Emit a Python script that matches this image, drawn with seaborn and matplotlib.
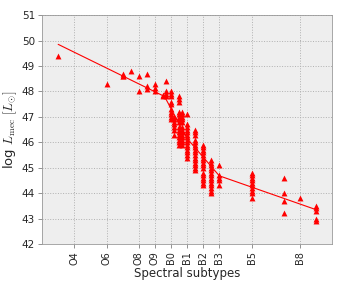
import numpy as np
import pandas as pd
import seaborn as sns
from matplotlib import pyplot as plt

# spectral subtype (numeric: O4=4 ... B0=10 ... B8=18) and log L_mec per star
subtype_cols = [3, 6, 7, 7.5, 8, 8.5, 9, 9.5, 9.7, 10, 10.2, 10.5, 10.7,
                11, 11.5, 12, 12.5, 13, 15, 17, 18, 19]
lmec_cols = [
    [49.4],
    [48.3],
    [48.7, 48.6, 48.6],
    [48.8],
    [48.6, 48.0],
    [48.7, 48.2, 48.1],
    [48.3, 48.15, 48.0],
    [47.8, 47.85],
    [48.4, 48.0, 47.9, 47.8],
    [48.0, 47.9, 47.8, 47.6, 47.5, 47.3, 47.2, 47.1, 47.0, 46.9],
    [47.0, 46.9, 46.8, 46.7, 46.6, 46.5, 46.3],
    [47.8, 47.7, 47.6, 47.2, 47.1, 47.0, 46.9, 46.8, 46.6, 46.5, 46.4,
     46.3, 46.2, 46.1, 46.0, 45.9],
    [47.2, 47.1, 47.0, 46.9, 46.8, 46.6, 46.5, 46.4, 46.3, 46.2, 46.1,
     46.0, 45.9],
    [47.1, 46.7, 46.6, 46.5, 46.4, 46.3, 46.2, 46.1, 46.0, 45.9, 45.8,
     45.7, 45.6, 45.5, 45.4],
    [46.5, 46.4, 46.3, 46.1, 46.0, 45.9, 45.8, 45.7, 45.6, 45.5, 45.4,
     45.3, 45.2, 45.1, 45.0, 44.9],
    [45.9, 45.8, 45.7, 45.6, 45.5, 45.4, 45.3, 45.2, 45.1, 45.0, 44.8,
     44.7, 44.6, 44.5, 44.4, 44.3],
    [45.3, 45.2, 45.1, 45.0, 44.9, 44.8, 44.7, 44.6, 44.5, 44.4, 44.3,
     44.2, 44.1, 44.0],
    [45.1, 44.7, 44.6, 44.5, 44.3],
    [44.8, 44.7, 44.6, 44.5, 44.4, 44.3, 44.2, 44.1, 44.0, 43.8],
    [44.6, 44.0, 43.7, 43.2],
    [43.8],
    [43.5, 43.4, 43.3, 43.0, 42.9],
]

# piecewise fit line
fit_x = [3, 9.6, 11.0, 13.0, 19.0]
fit_y = [49.85, 47.8, 46.15, 44.68, 43.35]

tick_pos = [4, 6, 8, 9, 10, 11, 12, 13, 15, 18]
tick_lab = ['O4', 'O6', 'O8', 'O9', 'B0', 'B1', 'B2', 'B3', 'B5', 'B8']

df = pd.DataFrame({
    'spt': [s for s, col in zip(subtype_cols, lmec_cols) for _ in col],
    'lmec': [v for col in lmec_cols for v in col],
})

sns.set_style('ticks')
plt.rcParams['font.family'] = ['DejaVu Sans']
plt.rcParams['mathtext.fontset'] = 'cm'

fig = plt.figure(figsize=(3.42, 2.85), dpi=100)
ax = fig.add_axes([0.123, 0.144, 0.848, 0.803])
ax.set_facecolor('#eeeeee')

sns.lineplot(x=fit_x, y=fit_y, sort=False, color='red', lw=0.8, ax=ax)
sns.scatterplot(data=df, x='spt', y='lmec', marker='^', color='red',
                s=18, linewidth=0, ax=ax, zorder=3)

ax.set_xlim(2, 20)
ax.set_ylim(42, 51)
ax.set_xticks(tick_pos)
ax.set_xticklabels(tick_lab, rotation=90, fontsize=7)
ax.set_yticks(np.arange(42, 52, 1))
ax.tick_params(axis='y', labelsize=7.5)
ax.tick_params(direction='out', length=3, color='#666666', width=0.5, pad=2)
ax.grid(True, ls=':', color='#b0b0b0', lw=0.7)
for sp in ax.spines.values():
    sp.set_color('#999999')
    sp.set_linewidth(0.6)

ax.set_xlabel('Spectral subtypes', fontsize=8.5, labelpad=2)
ax.set_ylabel(r'log $L_{\rm mec}$ $[L_{\odot}]$', fontsize=9.5, labelpad=2)

plt.savefig('out.png', dpi=100)
